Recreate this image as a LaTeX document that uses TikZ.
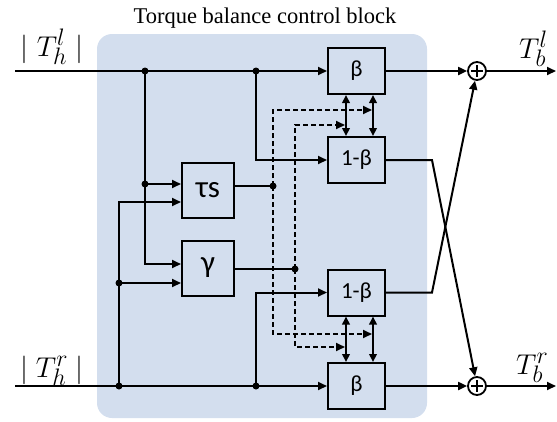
\documentclass[tikz,border=0pt]{standalone}
\usepackage{fontspec}
\newfontfamily\boxfont{Carlito}
\newfontfamily\titlefont{Liberation Serif}
\usetikzlibrary{arrows.meta,calc}
\definecolor{bgblue}{RGB}{211,222,238}
\tikzset{
  wire/.style={line width=2pt},
  arr/.style={wire,-{Triangle[length=9pt,width=8pt]}},
  darr/.style={wire,{Triangle[length=8pt,width=7.5pt]}-{Triangle[length=8pt,width=7.5pt]}},
  dashline/.style={line width=1.8pt, dash pattern=on 5pt off 3pt, -{Triangle[length=9pt,width=8pt]}},
  blk/.style={draw, line width=2pt, rectangle, inner sep=0pt, minimum width=57pt, minimum height=46pt, font=\boxfont\fontsize{23}{27}\selectfont},
  sblk/.style={blk, minimum width=52pt, minimum height=55pt, font=\boxfont\fontsize{31}{36}\selectfont},
  sumc/.style={draw, circle, line width=1.8pt, minimum size=18pt, inner sep=0pt},
  jdot/.style={circle, fill, inner sep=0pt, minimum size=7pt},
  mlabel/.style={inner sep=0pt, font=\Huge},
}
\begin{document}
\begin{tikzpicture}[x=1pt,y=-1pt]
\useasboundingbox (0,0) rectangle (557,421);
\fill[bgblue, rounded corners=15pt] (97,34) rectangle (427,418);
\node[anchor=base, inner sep=0pt, font=\titlefont\fontsize{22.5}{26}\selectfont] (title) at (265,23) {Torque balance control block};

% blocks
\node[blk] (bT) at (356.5,71) {β};
\node[blk] (obT) at (356.5,160) {1-β};
\node[blk] (obB) at (356.5,292.5) {1-β};
\node[blk] (bB) at (356.5,386) {β};
\node[sblk] (ts) at (208,190.5) {τs};
\node[sblk] (gm) at (208,268) {γ};
\node[sumc] (sT) at (477,71) {};
\node[sumc] (sB) at (477,386) {};
\draw[line width=1.6pt] ($(sT)+(-6,0)$) -- ($(sT)+(6,0)$) ($(sT)+(0,-6)$) -- ($(sT)+(0,6)$);
\draw[line width=1.6pt] ($(sB)+(-6,0)$) -- ($(sB)+(6,0)$) ($(sB)+(0,-6)$) -- ($(sB)+(0,6)$);

% points
\coordinate (inL) at (15,71);
\coordinate (inR) at (15,386);
\coordinate (outL) at (556,71);
\coordinate (outR) at (556,386);
\coordinate (kT) at (432,160);
\coordinate (kB) at (432,292.5);
\node[jdot] (j1) at (145,71) {};
\node[jdot] (j2) at (256,71) {};
\node[jdot] (j3) at (145,184) {};
\node[jdot] (j4) at (119,386) {};
\node[jdot] (j5) at (256,386) {};
\node[jdot] (j6) at (119,283) {};
\node[jdot] (d1) at (273,186) {};
\node[jdot] (d2) at (295,269) {};
\coordinate (tA) at (372,110);
\coordinate (tB) at (345,125);
\coordinate (tC) at (372,334);
\coordinate (tD) at (345,347);

% labels
\node[mlabel, anchor=base] (lhl) at (52,56) {\scalebox{1.15}{$|\;T_h^l\;|$}};
\node[mlabel, anchor=base] (lhr) at (52,377) {\scalebox{1.15}{$|\;T_h^r\;|$}};
\node[mlabel, anchor=base west] (lbl) at (519,58) {\scalebox{1.15}{$T_b^l$}};
\node[mlabel, anchor=base west] (lbr) at (516,374) {\scalebox{1.15}{$T_b^r$}};

% input wiring
\draw[arr] (inL) -- (bT);
\draw[arr] (inR) -- (bB);
\draw[arr] (j1.center) |- ($(gm.west)+(0,-4)$);
\draw[arr] (j3.center) -- ($(ts.west)+(0,-6.5)$);
\draw[arr] (j4.center) |- ($(ts.west)+(0,11.5)$);
\draw[arr] (j6.center) -- ($(gm.west)+(0,15)$);
\draw[arr] (j2.center) |- (obT);
\draw[arr] (j5.center) |- (obB);
\draw[wire] ($(ts.east)+(0,-4.5)$) -- (d1.center);
\draw[wire] ($(gm.east)+(0,1)$) -- (d2.center);

% dashed signals
\draw[dashline] (d1.center) |- (tA);
\draw[dashline] (d2.center) |- (tB);
\draw[dashline] (d1.center) |- (tC);
\draw[dashline] (d2.center) |- (tD);

% coupling arrows
\draw[darr] ($(bT.south)+(-10.5,0)$) -- ($(obT.north)+(-10.5,0)$);
\draw[darr] ($(bT.south)+(16.5,0)$) -- ($(obT.north)+(16.5,0)$);
\draw[darr] ($(obB.south)+(-10.5,0)$) -- ($(bB.north)+(-10.5,0)$);
\draw[darr] ($(obB.south)+(16.5,0)$) -- ($(bB.north)+(16.5,0)$);

% outputs
\draw[arr] (bT) -- (sT);
\draw[arr] (bB) -- (sB);
\draw[arr] (obT.east) -- (kT) -- (sB);
\draw[arr] (obB.east) -- (kB) -- (sT);
\draw[arr] (sT) -- (outL);
\draw[arr] (sB) -- (outR);
\end{tikzpicture}
\end{document}
